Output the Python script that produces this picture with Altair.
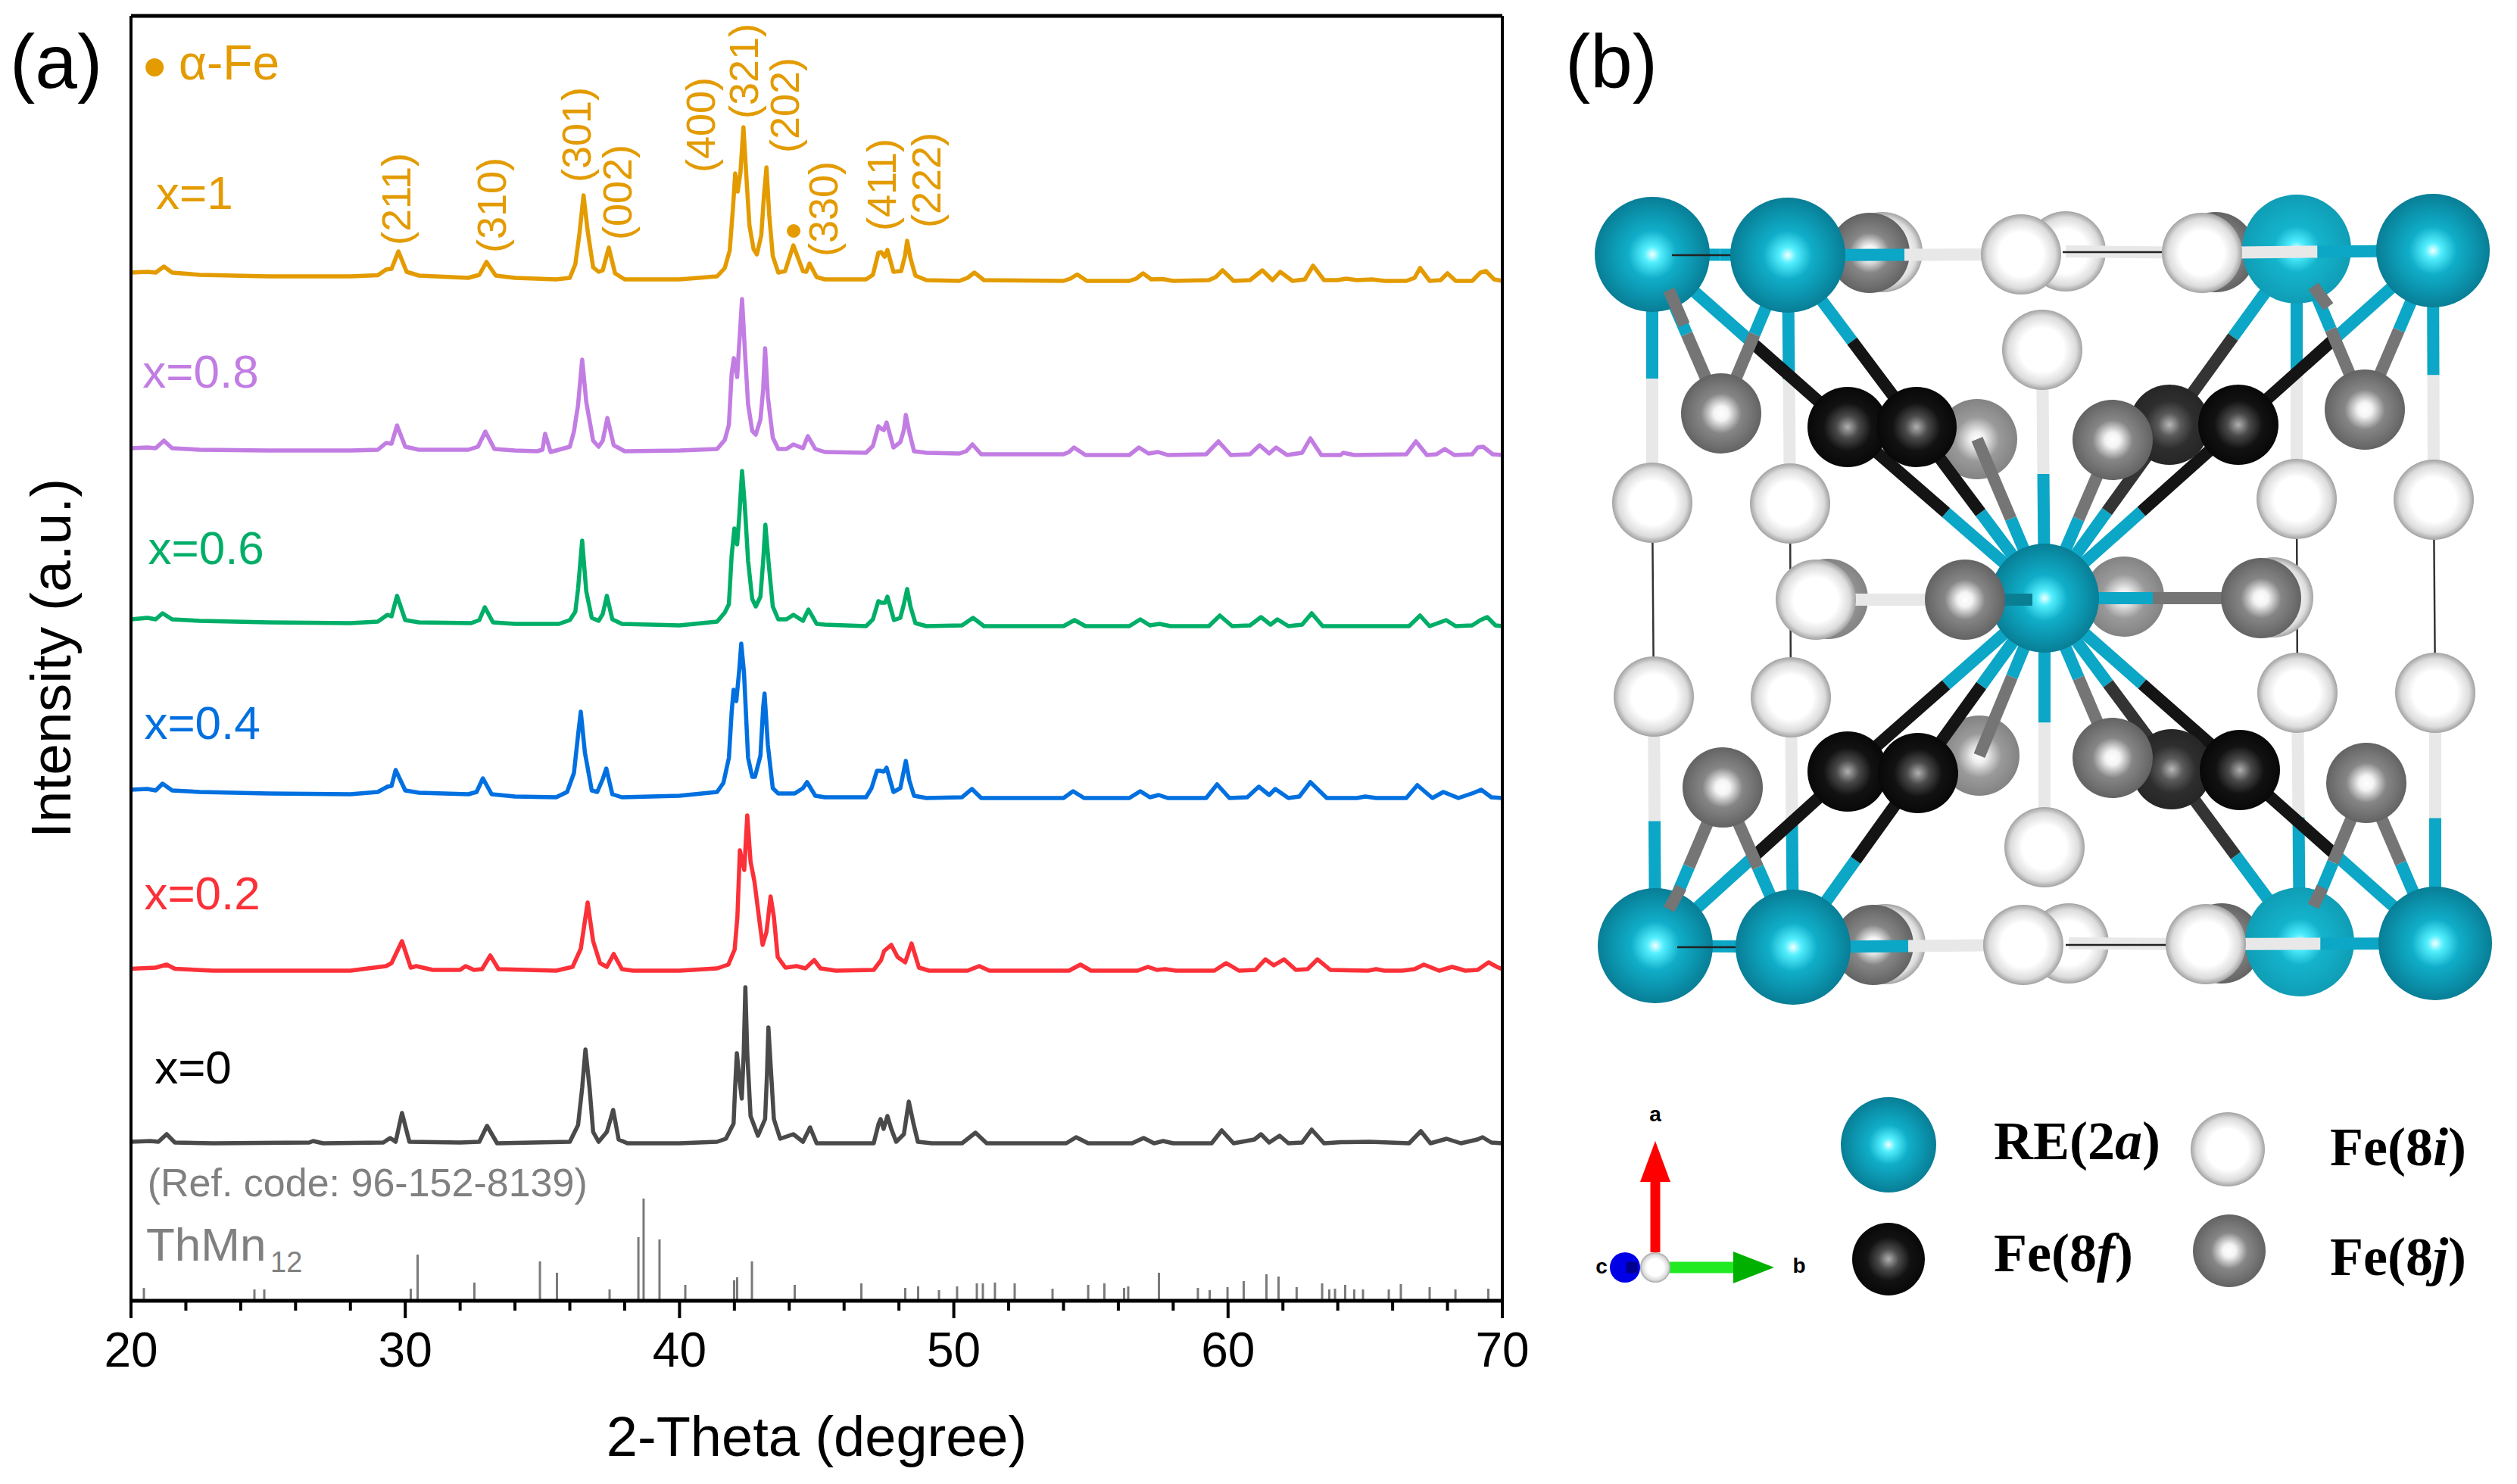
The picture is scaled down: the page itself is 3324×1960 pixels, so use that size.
import altair as alt
import pandas as pd

# ---------- panel (a): XRD traces, (2-theta, rise above the trace's own baseline) ----------
curve_1 = [(20,11),(20.6,12),(20.9,11),(21.2,19),(21.5,11),(22.5,8),(25,6),(28,6),(29,7.5),(29.3,15),(29.5,16),(29.75,39),(30.05,12),(30.5,7),(32.3,4),(32.7,8),(32.96,25),(33.3,7),(34,4),(35.5,2),(36,4),(36.2,22),(36.35,62),(36.5,113),(36.65,66),(36.85,18),(37.05,12),(37.2,14),(37.42,44),(37.65,10),(38,2),(40,2),(41.37,6),(41.65,17),(41.83,40),(41.95,97),(42.03,142),(42.12,118),(42.22,143),(42.33,203),(42.45,130),(42.55,73),(42.7,42),(42.82,35),(42.98,60),(43.08,113),(43.17,150),(43.27,87),(43.4,33),(43.6,11),(43.85,13),(44.15,47),(44.5,13),(44.62,12),(44.74,23),(45,5),(45.3,2),(46.8,2),(47.05,8),(47.25,37),(47.35,38),(47.48,32),(47.58,41),(47.8,12),(48.08,13),(48.22,33),(48.3,53),(48.42,30),(48.6,7),(49,1),(50.2,0),(50.5,4),(50.75,11),(51.1,1),(54,0),(54.25,3),(54.5,8.5),(54.85,0),(56.4,0),(56.65,3),(56.9,10),(57.2,2),(57.6,2.5),(58,0),(59.3,1),(59.55,5),(59.8,14),(60.2,0),(60.8,1),(61.25,14),(61.62,1),(61.9,12),(62.35,0),(62.8,2),(63.1,20),(63.5,1),(64,1),(64.3,3),(64.7,1),(65.25,2),(65.7,0),(66.5,0),(66.8,4),(67,17),(67.35,0),(67.75,1),(68,10),(68.3,0),(68.9,0),(69.2,11),(69.4,13),(69.7,2),(70,0)]
curve_08 = [(20,9),(20.6,10),(20.9,9),(21.2,19),(21.5,9),(22.5,7),(25,6),(28,6),(29,7),(29.3,16),(29.5,15),(29.7,39),(30,11),(30.5,7),(32.3,7),(32.65,11),(32.92,31),(33.25,8),(34,6),(34.8,5),(35,7),(35.1,28),(35.3,4),(35.6,7),(36,11),(36.15,31),(36.3,66),(36.45,126),(36.6,70),(36.85,19),(37.05,11),(37.2,19),(37.37,49),(37.6,13),(38,5),(40,6),(41.37,8),(41.65,20),(41.8,40),(41.9,107),(41.98,128),(42.1,103),(42.2,160),(42.28,206),(42.4,127),(42.5,67),(42.65,32),(42.78,27),(42.95,47),(43.05,87),(43.12,141),(43.22,77),(43.4,23),(43.6,8),(43.9,8),(44.15,14),(44.5,9),(44.68,25),(44.95,8),(45.3,4),(46.8,3),(47.05,12),(47.25,38),(47.35,35),(47.45,33),(47.55,43),(47.8,10),(48.05,17),(48.18,33),(48.25,53),(48.38,30),(48.55,5),(49,3),(50.2,2),(50.45,5),(50.68,14),(51,1),(54,1),(54.2,4),(54.38,10),(54.8,0),(56.4,0),(56.75,10),(57.1,2),(57.45,4),(57.8,0),(59.2,1),(59.65,18),(60.1,0),(60.8,1),(61.15,13),(61.5,2),(61.75,10),(62.15,0),(62.7,3),(63,22),(63.4,0),(64.1,0),(64.2,3),(64.6,0),(66.5,1),(66.85,18),(67.25,0),(67.6,1),(67.9,8),(68.25,0),(68.9,1),(69.1,10),(69.3,11),(69.65,1),(70,0)]
curve_06 = [(20,9),(20.6,11),(20.9,9),(21.15,17),(21.5,9),(22.5,7),(25,5),(28,4),(29,6),(29.35,15),(29.5,13),(29.7,40),(30,8),(30.5,5),(32.4,4),(32.7,8),(32.9,25),(33.2,5),(34,3),(35.6,3),(36,8),(36.2,19),(36.3,49),(36.45,113),(36.6,46),(36.8,11),(37.05,7),(37.2,16),(37.35,40),(37.55,9),(37.9,3),(40,1),(41.37,6),(41.65,18),(41.8,29),(41.9,93),(42,129),(42.1,108),(42.18,146),(42.28,205),(42.38,159),(42.5,86),(42.65,36),(42.78,26),(42.95,39),(43.05,86),(43.13,134),(43.25,83),(43.4,26),(43.6,9),(43.9,9),(44.15,15),(44.5,7),(44.7,22),(45,3),(45.3,2),(46.8,0),(47.05,9),(47.25,33),(47.35,31),(47.5,31),(47.58,39),(47.82,8),(48.05,11),(48.18,29),(48.3,49),(48.42,26),(48.6,4),(49,0),(50.3,1),(50.7,11),(51.1,0),(54,0),(54.4,8),(54.8,0),(56.4,0),(56.8,9),(57.15,1),(57.5,3),(57.9,0),(59.3,0),(59.7,14),(60.15,0),(60.8,1),(61.2,12),(61.55,2),(61.8,9),(62.2,0),(62.7,2),(63.05,17),(63.45,0),(66.6,0),(67,14),(67.35,0),(67.95,8),(68.3,0),(68.9,1),(69.2,8),(69.45,12),(69.75,1),(70,0)]
curve_04 = [(20,11),(20.6,12),(20.9,10),(21.15,19),(21.5,10),(22.5,8),(25,6),(28,5),(29,8),(29.35,15),(29.5,16),(29.65,37),(30,10),(30.5,7),(32.3,5),(32.6,8),(32.83,26),(33.15,5),(34,2),(35.5,1),(35.9,8),(36.15,33),(36.3,83),(36.4,114),(36.55,60),(36.8,10),(37,8),(37.2,25),(37.33,39),(37.55,5),(37.9,1),(40,3),(41.37,8),(41.6,20),(41.8,53),(41.9,113),(41.97,143),(42.07,128),(42.18,170),(42.25,204),(42.35,166),(42.5,53),(42.65,28),(42.75,28),(42.95,56),(43.05,120),(43.1,138),(43.22,70),(43.4,13),(43.6,6),(44.2,6),(44.5,13),(44.65,21),(44.95,3),(45.3,1),(46.8,1),(47,13),(47.2,36),(47.3,36),(47.45,35),(47.55,40),(47.8,8),(48.05,13),(48.25,49),(48.38,23),(48.55,3),(49,0),(50.3,1),(50.66,12),(51,0),(54,0),(54.35,9),(54.75,0),(56.4,0),(56.8,9),(57.15,1),(57.47,4),(57.8,0),(59.2,0),(59.6,18),(60.05,0),(60.7,1),(61.12,15),(61.5,4),(61.72,12),(62.2,0),(62.6,2),(63,21),(63.6,0),(64.7,0),(65,2),(65.4,0),(66.5,0),(66.9,17),(67.45,0),(67.85,8),(68.4,0),(68.97,7),(69.23,11),(69.6,1),(70,0)]
curve_02 = [(20,2.5),(20.9,4),(21.3,8),(21.6,2.5),(23,0),(28,0),(29.3,6),(29.5,10),(29.88,39),(30.2,4),(30.4,6),(31,1),(32,1),(32.2,6),(32.5,1),(32.8,2),(33.1,20),(33.4,2),(35.5,0),(36.1,5),(36.4,29),(36.65,90),(36.85,39),(37.1,10),(37.35,5),(37.6,22),(37.9,2),(38.3,0),(40,0),(41.37,3),(41.78,8),(42.01,28),(42.11,71),(42.2,159),(42.36,133),(42.47,205),(42.59,144),(42.73,118),(42.93,61),(43.03,34),(43.17,51),(43.32,98),(43.44,71),(43.58,18),(43.86,4),(44.27,6),(44.59,3),(44.91,14),(45.14,3),(45.7,0),(47.08,1),(47.35,14),(47.46,26),(47.72,34),(47.95,18),(48.23,11),(48.46,36),(48.73,4),(49.1,0),(50.5,0),(50.93,6),(51.3,0),(54.2,0),(54.62,8),(55,0),(56.7,0),(57.08,5),(57.4,1),(57.71,2),(58.1,0),(59.5,0),(59.93,10),(60.4,0),(61,1),(61.36,15),(61.67,7),(62.04,15),(62.47,1),(62.9,2),(63.26,15),(63.73,1),(65.1,0),(65.4,2),(65.7,0),(66.35,0),(66.8,2),(67.14,8),(67.7,0),(68.17,5),(68.65,0),(69.1,1),(69.5,11),(69.8,5),(70,2)]
curve_0 = [(20,2),(20.7,3),(21,2),(21.3,12),(21.6,1),(23,0),(26.5,1),(26.64,3),(27,0),(29.2,1),(29.45,7),(29.65,2),(29.88,40),(30.15,2),(32,1),(32.7,2),(32.98,23),(33.35,0),(36,2),(36.3,24),(36.45,73),(36.57,124),(36.72,73),(36.85,15),(37.05,2),(37.35,15),(37.58,44),(37.78,5),(38.1,0),(40,0),(41.37,2),(41.69,6),(41.97,26),(42.03,76),(42.09,119),(42.18,86),(42.27,59),(42.34,119),(42.4,206),(42.47,119),(42.59,36),(42.86,10),(43.12,32),(43.19,92),(43.24,153),(43.35,86),(43.44,32),(43.67,6),(44.15,12),(44.5,2),(44.76,21),(45,0),(47.08,0),(47.26,26),(47.33,32),(47.44,19),(47.58,36),(47.72,19),(47.9,2),(48.18,12),(48.36,55),(48.53,26),(48.69,2),(49.2,0),(50.3,0),(50.79,14),(51.2,0),(54.1,0),(54.46,8),(54.9,0),(56.5,0),(56.92,7),(57.3,0),(57.63,3),(58,0),(59.4,0),(59.77,17),(60.2,0),(60.96,5),(61.2,12),(61.5,1),(61.88,10),(62.2,0),(62.7,1),(63.05,18),(63.5,0),(64.13,1.5),(65.16,2),(66.6,0),(67.03,16),(67.38,0),(67.97,6),(68.49,0),(69.09,5),(69.28,8),(69.6,1),(70,0)]

series_names = ["x=1", "x=0.8", "x=0.6", "x=0.4", "x=0.2", "x=0"]
series_curves = [curve_1, curve_08, curve_06, curve_04, curve_02, curve_0]
series_base = [1347, 1117, 891, 664, 436, 208]
series_colors = ["#e39b00", "#c27de3", "#00ae68", "#0070e0", "#fb3038", "#4a4a4a"]
label_colors = ["#e39b00", "#c27de3", "#00ae68", "#0070e0", "#fb3038", "#000000"]
label_x = [20.91, 20.42, 20.62, 20.48, 20.48, 20.86]
label_y = [1461, 1225, 992, 761, 536, 306]

stick_x = [20.47,24.5,24.86,30.2,30.45,32.52,34.91,35.53,37.45,38.5,38.69,39.27,40.21,41.99,42.1,42.64,44.2,46.63,48.23,48.7,49.46,50.12,50.84,51.06,51.5,52.22,53.6,54.9,55.49,56.21,56.36,57.48,58.9,59.33,59.98,60.57,61.4,61.84,62.5,63.43,63.69,63.9,64.27,64.6,64.92,65.86,66.3,67.35,68.29,69.49]
stick_h = [17,15,15,16,61,24,52,37,15,84,135,81,21,27,31,52,21,23,17,19,14,19,23,23,24,23,16,21,23,17,19,37,17,14,18,26,35,32,18,23,15,16,21,15,15,15,22,18,15,16]

hkl_text = ["(211)","(310)","(301)","(002)","(400)","(321)","(202)","(330)","(411)","(222)"]
hkl_x = [29.75,33.22,36.32,37.81,40.84,42.42,43.91,45.32,47.44,49.07]
hkl_y = [1455,1447,1540,1464,1553,1624,1579,1442,1474,1480]

major_ticks = [20,30,40,50,60,70]
minor_ticks = [22,24,26,28,32,34,36,38,42,44,46,48,52,54,56,58,62,64,66,68]

SANS = "Liberation Sans"
SERIF = "Liberation Serif"
GOLD = series_colors[0]
GREY = "#808080"

xs = alt.Scale(domain=[20, 70], nice=False, zero=False)
ys = alt.Scale(domain=[-240, 1697], nice=False, zero=False)
y_axis = alt.Axis(title="Intensity (a.u.)", labels=False, ticks=False, domain=False, grid=False,
                  titleFont=SANS, titleFontSize=75, titleFontWeight="normal", titleColor="#000",
                  titleX=-104, titleY=848, titleBaseline="middle")
X = lambda: alt.X("x:Q", scale=xs, axis=None)
Y = lambda: alt.Y("y:Q", scale=ys, axis=y_axis)


def text_layer(xv, yv, tv, color, size, angle=0, align="left"):
    df = pd.DataFrame({"x": xv, "y": yv, "t": tv})
    return alt.Chart(df).mark_text(font=SANS, fontSize=size, color=color, angle=angle, align=align,
                                   baseline="middle", clip=False).encode(x=X(), y=Y(), text="t:N")


def tick_layer(values, depth):
    df = pd.DataFrame({"x": values, "depth": [depth] * len(values), "top": [0] * len(values)})
    return alt.Chart(df).mark_rule(color="#000000", strokeWidth=4, clip=False).encode(
        x=X(), y=alt.Y("top:Q", scale=ys, axis=y_axis), y2="depth:Q")


rows = []
for name, curve, base in zip(series_names, series_curves, series_base):
    for d, r in curve:
        rows.append({"x": d, "y": base + r, "series": name})
traces = pd.DataFrame(rows)

a_layers = []
a_layers.append(
    alt.Chart(traces).mark_line(strokeWidth=5.5, strokeJoin="round", clip=False).encode(
        x=X(),
        y=Y(),
        color=alt.Color("series:N", scale=alt.Scale(domain=series_names, range=series_colors), legend=None),
        detail="series:N",
    )
)
a_layers.append(text_layer(major_ticks, [-68] * len(major_ticks), [str(v) for v in major_ticks], "#000", 64, align="center"))
a_layers.append(text_layer([45], [-183], ["2-Theta (degree)"], "#000", 74, align="center"))
a_layers.append(
    alt.Chart(pd.DataFrame({"x": stick_x, "y": stick_h, "y0": [0] * len(stick_x)})).mark_rule(
        color="#7a7a7a", strokeWidth=3).encode(x=X(), y=Y(), y2="y0:Q")
)
for name, col, lx, ly in zip(series_names, label_colors, label_x, label_y):
    a_layers.append(text_layer([lx], [ly], [name], col, 62))
a_layers.append(text_layer(hkl_x, hkl_y, hkl_text, GOLD, 54, angle=270, align="center"))
a_layers.append(text_layer([21.74], [1632], ["\u03b1-Fe"], GOLD, 64))
a_layers.append(text_layer([20.6], [154], ["(Ref. code: 96-152-8139)"], GREY, 52))
a_layers.append(text_layer([20.55], [72], ["ThMn"], GREY, 62))
a_layers.append(text_layer([25.08], [49], ["12"], GREY, 38))
a_layers.append(text_layer([17.27], [1632], ["(a)"], "#000", 100, align="center"))
a_layers.append(
    alt.Chart(pd.DataFrame({"x": [20.86, 44.16], "y": [1629, 1413], "s": [576, 324]})).mark_circle(
        color=GOLD, opacity=1).encode(x=X(), y=Y(), size=alt.Size("s:Q", scale=None, legend=None))
)
# plot frame, bottom axis line and ticks
a_layers.append(
    alt.Chart(pd.DataFrame({"x": [20, 20], "x1": [70, 70], "y": [0, 1697]})).mark_rule(
        color="#000000", strokeWidth=5, clip=False).encode(x=X(), x2="x1:Q", y=Y())
)
a_layers.append(
    alt.Chart(pd.DataFrame({"x": [20, 70], "top": [1697, 1697], "low": [0, 0]})).mark_rule(
        color="#000000", strokeWidth=4, clip=False).encode(
        x=X(), y=alt.Y("top:Q", scale=ys, axis=y_axis), y2="low:Q")
)
a_layers.append(tick_layer(major_ticks, -23))
a_layers.append(tick_layer(minor_ticks, -13))

panel_a = alt.layer(*a_layers).properties(
    width=1811, height=1937, view=alt.ViewConfig(stroke=None)
)

# ---------- panel (b): structure drawn in its own plane coordinates ----------
def grad(*stops):
    return alt.RadialGradient(gradient="radial", x1=0.5, y1=0.5, x2=0.5, y2=0.5, r1=0, r2=0.5,
                              stops=[alt.GradientStop(offset=o, color=c) for o, c in stops])


kinds = {
    "re": grad((0, "#f2ffff"), (0.14, "#55f0ff"), (0.42, "#10aec9"), (1, "#087e96")),
    "rl": grad((0, "#eaffff"), (0.14, "#50eeff"), (0.42, "#14b4cc"), (1, "#0f9db5")),
    "i": grad((0, "#ffffff"), (0.55, "#ffffff"), (0.85, "#dcdcdc"), (1, "#a2a2a2")),
    "j": grad((0, "#ffffff"), (0.18, "#f4f4f4"), (0.5, "#868686"), (1, "#636363")),
    "jl": grad((0, "#ffffff"), (0.18, "#eeeeee"), (0.55, "#9a9a9a"), (1, "#838383")),
    "f": grad((0, "#b0b0b0"), (0.28, "#4a4a4a"), (0.6, "#121212"), (1, "#080808")),
    "fd": grad((0, "#b8b8b8"), (0.28, "#5a5a5a"), (0.6, "#2e2e2e"), (1, "#262626")),
}
bond_color = {"re": "#0ca6c6", "rl": "#0ca6c6", "i": "#e8e8e8", "j": "#757575", "jl": "#757575",
              "f": "#141414", "fd": "#343434"}

# name: (x, y, kind, radius)
atoms_back = {
    "i1": (2491, 332, "i", 53), "j1": (2474, 333, "j", 53), "i2": (2733, 331, "i", 53),
    "j2": (2931, 332, "j", 53),
    "i3": (2495, 1246, "i", 53), "j3": (2479, 1247, "j", 53), "i4": (2737, 1245, "i", 53),
    "j4": (2939, 1245, "j", 53),
    "i5": (2419, 790, "jl", 53), "ja": (2616, 579, "jl", 53), "ja2": (2619, 997, "jl", 53),
    "jb": (2810, 787, "jl", 53), "i6": (3007, 788, "i", 53),
}
atoms_mid = {
    "A": (2187, 335, "re", 76), "A2": (2191, 1248, "re", 76),
    "C": (3038, 328, "rl", 72), "C2": (3042, 1243, "rl", 72),
}
atoms_front = {
    "B": (2366, 336, "re", 76), "D": (3218, 330, "re", 75),
    "B2": (2373, 1250, "re", 76), "D2": (3221, 1245, "re", 75),
    "i7": (2674, 335, "i", 53), "i8": (2913, 333, "i", 53),
    "i9": (2677, 1247, "i", 53), "i10": (2918, 1246, "i", 53),
    "i11": (2702, 461, "i", 53), "i12": (2705, 1118, "i", 53),
    "w1": (2187, 663, "i", 53), "w2": (2369, 664, "i", 53), "w3": (3038, 658, "i", 53), "w4": (3219, 659, "i", 53),
    "w5": (2189, 919, "i", 53), "w6": (2370, 920, "i", 53), "w7": (3039, 914, "i", 53), "w8": (3221, 914, "i", 53),
    "g1": (2278, 545, "j", 53), "g2": (3128, 540, "j", 53), "g3": (2280, 1039, "j", 53), "g4": (3130, 1033, "j", 53),
    "d1": (2870, 560, "fd", 53), "d2": (2873, 1015, "fd", 53),
    "g5": (2795, 580, "j", 53), "g6": (2795, 1000, "j", 53),
    "k1": (2961, 560, "f", 53), "k2": (2963, 1016, "f", 53),
    "k3": (2445, 563, "f", 53), "k4": (2445, 1018, "f", 53),
    "k5": (2536, 563, "f", 53), "k6": (2538, 1020, "f", 53),
    "i13": (2403, 791, "i", 53),
    "E": (2705, 789, "re", 72),
}
atoms_top = {
    "g7": (2600, 791, "j", 53), "g8": (2991, 789, "j", 53),
}
all_atoms = {**atoms_back, **atoms_mid, **atoms_front, **atoms_top}

bond_pairs = [
    ("A", "w1"), ("B", "w2"), ("C", "w3"), ("D", "w4"),
    ("w5", "A2"), ("w6", "B2"), ("w7", "C2"), ("w8", "D2"),
    ("i11", "E"), ("E", "i12"),
    ("A", "B"), ("B", "i7"), ("i2", "i8"),
    ("A2", "B2"), ("B2", "i9"), ("i4", "i10"),
    ("E", "g8"),
    ("A", "k3"), ("B", "k5"), ("C", "d1"), ("D", "k1"),
    ("A", "g1"), ("B", "g1"), ("C", "g2"), ("D", "g2"),
    ("A2", "k4"), ("B2", "k6"), ("C2", "d2"), ("D2", "k2"),
    ("A2", "g3"), ("B2", "g3"), ("C2", "g4"), ("D2", "g4"),
    ("E", "k3"), ("E", "k5"), ("E", "ja"), ("E", "g5"), ("E", "d1"), ("E", "k1"),
    ("E", "k4"), ("E", "k6"), ("E", "ja2"), ("E", "g6"), ("E", "d2"), ("E", "k2"),
]
white_bond = [(2403, 791, 2600, 791, "#e8e8e8")]
bonds_over_mid = [("i8", "D"), ("i10", "D2")]
gray_over_mid = [
    (2209, 382, 2229, 428), (2209, 1200, 2225, 1171), (3060, 377, 3080, 404), (3060, 1196, 3072, 1171),
]
thin_back = [(2187, 663, 2189, 919), (2369, 664, 2370, 920), (3038, 658, 3039, 914), (3219, 659, 3221, 914)]
thin_front = [(2213, 336, 2294, 336), (2729, 332, 2862, 332), (2220, 1250, 2300, 1250), (2733, 1247, 2866, 1247)]
arrow_path = "M-0.74,1L0.74,1L0,-1Z"
arrow_right = "M-1,-0.78L1,0L-1,0.78Z"

bxs = alt.Scale(domain=[2040, 3310], nice=False, zero=False)
bys = alt.Scale(domain=[1780, 20], nice=False, zero=False)
BX = lambda: alt.X("x:Q", scale=bxs, axis=None)
BY = lambda: alt.Y("y:Q", scale=bys, axis=None)


def atom_layer(items):
    df = pd.DataFrame({"x": [a[0] for a in items], "y": [a[1] for a in items],
                       "s": [(2 * a[3]) ** 2 for a in items]})
    return alt.Chart(df).mark_point(filled=True, shape="circle", fill=kinds[items[0][2]], opacity=1,
                                    strokeWidth=0).encode(
        x=BX(), y=BY(), size=alt.Size("s:Q", scale=None, legend=None))


def atom_layers(group):
    out, run = [], []
    for a in group:
        if run and run[-1][2] != a[2]:
            out.append(atom_layer(run))
            run = []
        run.append(a)
    if run:
        out.append(atom_layer(run))
    return out


def seg_layer(segs, width):
    df = pd.DataFrame({"x": [s[0] for s in segs], "y": [s[1] for s in segs],
                       "x1": [s[2] for s in segs], "y1": [s[3] for s in segs],
                       "c": [s[4] for s in segs]})
    return alt.Chart(df).mark_rule(strokeWidth=width).encode(
        x=BX(), y=BY(), x2="x1:Q", y2="y1:Q", color=alt.Color("c:N", scale=None, legend=None))


def bond_segments(pairs):
    out = []
    for p, q in pairs:
        ax, ay, ak, _ = all_atoms[p]
        bx, by, bk, _ = all_atoms[q]
        mx, my = (ax + bx) / 2, (ay + by) / 2
        out.append((ax, ay, mx, my, bond_color[ak]))
        out.append((mx, my, bx, by, bond_color[bk]))
    return out


def btext(x, y, t, size=72, weight="bold", style="normal", font=SERIF, align="left", baseline="alphabetic"):
    df = pd.DataFrame({"x": [x], "y": [y], "t": [t]})
    return alt.Chart(df).mark_text(font=font, fontSize=size, fontWeight=weight, fontStyle=style,
                                   align=align, baseline=baseline, color="#000").encode(
        x=BX(), y=BY(), text="t:N")


b_layers = []
b_layers.append(seg_layer([t + ("#333333",) for t in thin_back], 2.5))
b_layers += atom_layers(list(atoms_back.values()))
b_layers.append(seg_layer(bond_segments(bond_pairs) + white_bond, 16))
b_layers += atom_layers(list(atoms_mid.values()))
b_layers.append(seg_layer(bond_segments(bonds_over_mid), 16))
b_layers.append(seg_layer([t + ("#757575",) for t in gray_over_mid], 16))
b_layers.append(seg_layer([t + ("#222222",) for t in thin_front], 2.5))
b_layers += atom_layers(list(atoms_front.values()))
b_layers.append(seg_layer([(2600, 791, 2689, 791, "#0a7f93")], 16))
b_layers += atom_layers(list(atoms_top.values()))

# legend atoms and labels
b_layers.append(atom_layer([(2499, 1511, "re", 63)]))
b_layers.append(atom_layer([(2947, 1517, "i", 49)]))
b_layers.append(atom_layer([(2499, 1662, "f", 48)]))
b_layers.append(atom_layer([(2949, 1651, "j", 48)]))
b_layers += [
    btext(2638, 1530, "RE(2"), btext(2798, 1530, "a", style="italic"), btext(2834, 1530, ")"),
    btext(3082, 1538, "Fe(8"), btext(3218, 1538, "i", style="italic"), btext(3238, 1538, ")"),
    btext(2638, 1678, "Fe(8"), btext(2774, 1678, "f", style="italic"), btext(2798, 1678, ")"),
    btext(3082, 1683, "Fe(8"), btext(3218, 1683, "j", style="italic"), btext(3238, 1683, ")"),
]

# compass
b_layers.append(
    alt.Chart(pd.DataFrame({"x": [2151], "y": [1673], "s": [1600]})).mark_circle(color="#0000e6", opacity=1).encode(
        x=BX(), y=BY(), size=alt.Size("s:Q", scale=None, legend=None)))
b_layers.append(
    alt.Chart(pd.DataFrame({"x": [2160], "y": [1673], "s": [220]})).mark_square(color="#00008c", opacity=1).encode(
        x=BX(), y=BY(), size=alt.Size("s:Q", scale=None, legend=None)))
b_layers.append(seg_layer([(2191, 1653, 2191, 1555, "#ff0000")], 13))
b_layers.append(seg_layer([(2210, 1673, 2300, 1673, "#22ea22")], 15))
b_layers.append(
    alt.Chart(pd.DataFrame({"x": [2191], "y": [1533], "s": [54 ** 2]})).mark_point(
        filled=True, shape=arrow_path, color="#ff0000", opacity=1, strokeWidth=0).encode(
        x=BX(), y=BY(), size=alt.Size("s:Q", scale=None, legend=None)))
b_layers.append(
    alt.Chart(pd.DataFrame({"x": [2321], "y": [1673], "s": [54 ** 2]})).mark_point(
        filled=True, shape=arrow_right, color="#00b000", opacity=1, strokeWidth=0).encode(
        x=BX(), y=BY(), size=alt.Size("s:Q", scale=None, legend=None)))
b_layers.append(atom_layer([(2191, 1673, "i", 20)]))
b_layers += [
    btext(2191, 1472, "a", size=28, font=SANS, align="center", baseline="middle"),
    btext(2381, 1672, "b", size=28, font=SANS, align="center", baseline="middle"),
    btext(2120, 1673, "c", size=28, font=SANS, align="center", baseline="middle"),
    btext(2133, 85, "(b)", size=100, weight="normal", font=SANS, align="center", baseline="middle"),
]

panel_b = alt.layer(*b_layers).properties(width=1270, height=1760, view=alt.ViewConfig(stroke=None))

chart = alt.hconcat(panel_a, panel_b, spacing=15).properties(
    padding={"left": 5, "top": 10, "right": 0, "bottom": 0}
).configure(background="#ffffff")

chart.save("out.html", embed_options={"renderer": "svg", "actions": False})
